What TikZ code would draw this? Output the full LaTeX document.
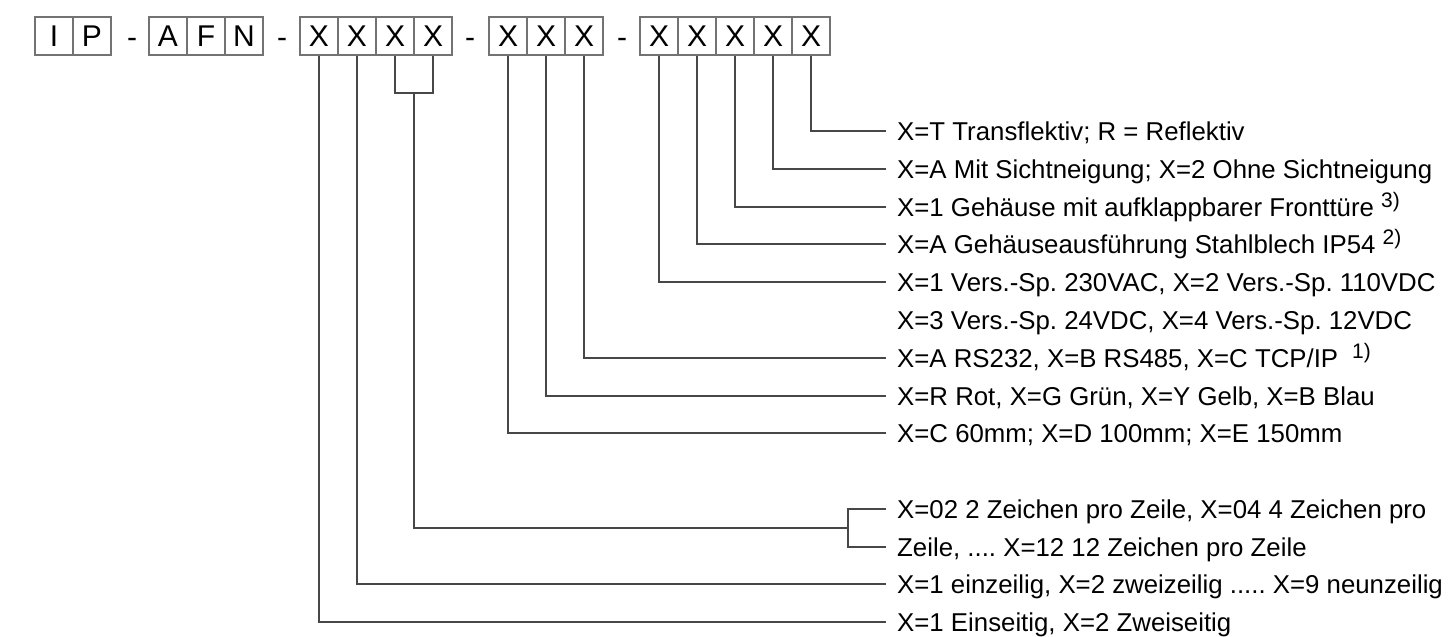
\documentclass[tikz,border=0pt]{standalone}
\usepackage{fontspec}
\setmainfont{Liberation Sans}
\usetikzlibrary{calc}
\frenchspacing
\tikzset{
  cbox/.style={draw=black!55, line width=1.1pt, minimum width=38pt, minimum height=38pt, inner sep=0pt, font=\fontsize{30}{30}\selectfont},
  dsh/.style={anchor=base, inner sep=0pt, font=\fontsize{30}{30}\selectfont},
  lbl/.style={anchor=west, inner xsep=11pt, inner ysep=0pt, text height=18pt, text depth=0pt, font=\fontsize{25.8}{30}\selectfont\frenchspacing},
  conn/.style={draw=black!72, line width=1.3pt},
}
\newcommand{\fnote}[1]{\raisebox{9pt}{\fontsize{21}{21}\selectfont #1}}
\begin{document}
\begin{tikzpicture}[x=1pt,y=-1pt]
\useasboundingbox (0,0) rectangle (1451,637);
% code boxes
\node[cbox] (a1) at (54,36) {I};
\node[cbox] (a2) at (92,36) {P};
\node[dsh]  (d1) at (132,47) {-};
\node[cbox] (b1) at (168,36) {A};
\node[cbox] (b2) at (206,36) {F};
\node[cbox] (b3) at (244,36) {N};
\node[dsh]  (d2) at (282,47) {-};
\node[cbox] (c1) at (319,36) {X};
\node[cbox] (c2) at (357,36) {X};
\node[cbox] (c3) at (395,36) {X};
\node[cbox] (c4) at (433,36) {X};
\node[dsh]  (d3) at (470,47) {-};
\node[cbox] (e1) at (508,36) {X};
\node[cbox] (e2) at (546,36) {X};
\node[cbox] (e3) at (584,36) {X};
\node[dsh]  (d4) at (622,47) {-};
\node[cbox] (f1) at (659,36) {X};
\node[cbox] (f2) at (697,36) {X};
\node[cbox] (f3) at (735,36) {X};
\node[cbox] (f4) at (773,36) {X};
\node[cbox] (f5) at (811,36) {X};
% labels
\node[lbl] (t1)  at (886,131) {X=T Transflektiv; R = Reflektiv};
\node[lbl] (t2)  at (886,169) {X=A Mit Sichtneigung; X=2 Ohne Sichtneigung};
\node[lbl] (t3)  at (886,207) {X=1 Gehäuse mit aufklappbarer Fronttüre \fnote{3)}};
\node[lbl] (t4)  at (886,244) {X=A Gehäuseausführung Stahlblech IP54 \fnote{2)}};
\node[lbl] (t5)  at (886,282) {X=1 Vers.-Sp. 230VAC, X=2 Vers.-Sp. 110VDC};
\node[lbl] (t6)  at (886,320) {X=3 Vers.-Sp. 24VDC, X=4 Vers.-Sp. 12VDC};
\node[lbl] (t7)  at (886,358) {X=A RS232, X=B RS485, X=C TCP/IP\hspace{14pt}\fnote{1)}};
\node[lbl] (t8)  at (886,396) {X=R Rot, X=G Grün, X=Y Gelb, X=B Blau};
\node[lbl] (t9)  at (886,433) {X=C 60mm; X=D 100mm; X=E 150mm};
\node[lbl] (t10) at (886,509) {X=02 2 Zeichen pro Zeile, X=04 4 Zeichen pro};
\node[lbl] (t11) at (886,547) {Zeile, .... X=12 12 Zeichen pro Zeile};
\node[lbl] (t12) at (886,584) {X=1 einzeilig, X=2 zweizeilig ..... X=9 neunzeilig};
\node[lbl] (t13) at (886,622) {X=1 Einseitig, X=2 Zweiseitig};
% connectors
\draw[conn] (f5.south) |- (t1.west);
\draw[conn] (f4.south) |- (t2.west);
\draw[conn] (f3.south) |- (t3.west);
\draw[conn] (f2.south) |- (t4.west);
\draw[conn] (f1.south) |- (t5.west);
\draw[conn] (e3.south) |- (t7.west);
\draw[conn] (e2.south) |- (t8.west);
\draw[conn] (e1.south) |- (t9.west);
\coordinate (st) at (414,93);
\coordinate (bk) at (848,528);
\draw[conn] (c3.south) |- (st) -| (c4.south);
\draw[conn] (st) |- (bk);
\draw[conn] (t10.west) -| (bk) |- (t11.west);
\draw[conn] (c2.south) |- (t12.west);
\draw[conn] (c1.south) |- (t13.west);
\end{tikzpicture}
\end{document}
